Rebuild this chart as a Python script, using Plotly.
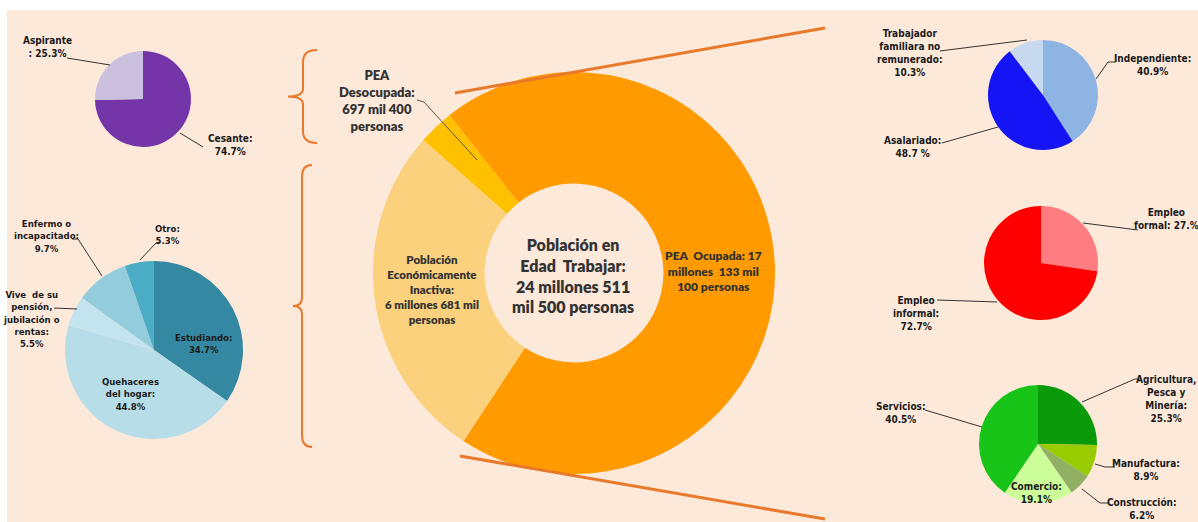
import plotly.graph_objects as go

W, H = 1198, 522

# ---- data -------------------------------------------------------------
# Población en edad de trabajar (personas)
pet_labels = ["PEA Ocupada", "Población Económicamente Inactiva", "PEA Desocupada"]
pet_values = [17133100, 6681000, 697400]
pet_colors = ["#FF9A00", "#FCD17D", "#FFC000"]

# PEA desocupada (%)
deso_labels = ["Cesante", "Aspirante"]
deso_values = [74.7, 25.3]
deso_colors = ["#7435A8", "#CBC0DE"]

# Población inactiva (%)
inac_labels = ["Estudiando", "Quehaceres del hogar", "Vive de su pensión, jubilación o rentas",
               "Enfermo o incapacitado", "Otro"]
inac_values = [34.7, 44.8, 5.5, 9.7, 5.3]
inac_colors = ["#3588A2", "#B7DEE8", "#C3E4EE", "#93CDDD", "#4BACC6"]

# PEA ocupada por categoría (%)
cat_labels = ["Independiente", "Asalariado", "Trabajador familiara no remunerado"]
cat_values = [40.9, 48.7, 10.3]
cat_colors = ["#8EB4E3", "#1414F5", "#C6D9F1"]

# Empleo formal / informal (%)
form_labels = ["Empleo formal", "Empleo informal"]
form_values = [27.3, 72.7]
form_colors = ["#FF7C80", "#FF0000"]

# PEA ocupada por sector (%)
sec_labels = ["Agricultura, Pesca y Minería", "Manufactura", "Construcción", "Comercio", "Servicios"]
sec_values = [25.3, 8.9, 6.2, 19.1, 40.5]
sec_colors = ["#0A9A0A", "#99CC00", "#92B063", "#CCFF99", "#18C418"]


# ---- helpers ----------------------------------------------------------
def fx(x):
    return x / W


def fy(y):
    return 1 - y / H


def domain(cx, cy, r):
    return dict(x=[fx(cx - r), fx(cx + r)], y=[fy(cy + r), fy(cy - r)])


def pie(labels, values, colors, cx, cy, r, hole=0, rotation=0):
    return go.Pie(labels=labels, values=values, sort=False, direction="clockwise",
                  rotation=rotation, hole=hole, textinfo="none", hoverinfo="label+percent",
                  marker=dict(colors=colors, line=dict(width=0)),
                  domain=domain(cx, cy, r), showlegend=False)


fig = go.Figure()
fig.add_trace(pie(pet_labels, pet_values, pet_colors, 574, 273, 201, hole=0.445, rotation=-38.3))
fig.add_trace(pie(deso_labels, deso_values, deso_colors, 143, 99, 48))
fig.add_trace(pie(inac_labels, inac_values, inac_colors, 154, 350, 89))
fig.add_trace(pie(cat_labels, cat_values, cat_colors, 1043, 95, 55))
fig.add_trace(pie(form_labels, form_values, form_colors, 1041, 263, 57))
fig.add_trace(pie(sec_labels, sec_values, sec_colors, 1038, 444, 59))

# ---- text -------------------------------------------------------------
NARROW = "Liberation Sans Narrow, Arial Narrow, DejaVu Sans Condensed, sans-serif"
CAL = "Lato, Carlito, Calibri, sans-serif"


def pct(v):
    return f"{v:.1f}%"


small_labels = [
    # (text, x, y, size)
    (f"Aspirante<br>: {pct(deso_values[1])}", 47, 47, 10),
    (f"Cesante:<br>{pct(deso_values[0])}", 230, 145, 10),
    (f"Enfermo o<br>incapacitado:<br>{pct(inac_values[3])}", 46, 236, 9.5),
    (f"Otro:<br>{pct(inac_values[4])}", 167, 234, 9.5),
    (f"Vive  de su<br>pensión,<br>jubilación o<br>rentas:<br>{pct(inac_values[2])}", 31, 319, 9.5),
    (f"Estudiando:<br>{pct(inac_values[0])}", 203, 343, 9.5),
    (f"Quehaceres<br>del hogar:<br>{pct(inac_values[1])}", 130, 394, 9.5),
    (f"Trabajador<br>familiara no<br>remunerado:<br>{pct(cat_values[2])}", 910, 53, 10),
    (f"Independiente:<br>{pct(cat_values[0])}", 1152, 65, 10),
    (f"Asalariado:<br>{cat_values[1]:.1f} %", 912, 147, 10),
    ("Empleo<br>formal: 27.%", 1166, 219, 10),
    (f"Empleo<br>informal:<br>{pct(form_values[1])}", 916, 313, 10),
    (f"Agricultura,<br>Pesca y<br>Minería:<br>{pct(sec_values[0])}", 1166, 399, 10),
    (f"Manufactura:<br>{pct(sec_values[1])}", 1146, 470, 10),
    (f"Construcción:<br>{pct(sec_values[2])}", 1142, 509, 10),
    (f"Comercio:<br>{pct(sec_values[3])}", 1036, 493, 10),
    (f"Servicios:<br>{pct(sec_values[4])}", 901, 413, 10),
]

annotations = []
for text, x, y, size in small_labels:
    annotations.append(dict(text=text, x=fx(x), y=fy(y), xref="paper", yref="paper",
                            xanchor="center", yanchor="middle", showarrow=False, align="center",
                            font=dict(family=NARROW, size=size, color="#1a1a1a", weight=700)))

big_labels = [
    ("Población en<br>Edad  Trabajar:<br>24 millones 511<br>mil 500 personas", 573, 275, 16),
    ("PEA  Ocupada: 17<br>millones  133 mil<br>100 personas", 713, 271, 12),
    ("Población<br>Económicamente<br>Inactiva:<br>6 millones 681 mil<br>personas", 432, 289, 11.5),
    ("PEA<br>Desocupada:<br>697 mil 400<br>personas", 377, 101, 13),
]
for text, x, y, size in big_labels:
    annotations.append(dict(text=text, x=fx(x), y=fy(y), xref="paper", yref="paper",
                            xanchor="center", yanchor="middle", showarrow=False, align="center",
                            font=dict(family=CAL, size=size, color="#333333", weight=800)))

# ---- shapes -----------------------------------------------------------
shapes = [dict(type="rect", xref="paper", yref="paper", x0=fx(7), x1=1, y0=0, y1=fy(10),
               fillcolor="#FDE9DA", line=dict(width=0), layer="below")]


def poly(points, color="#333333", width=1):
    d = "M " + " L ".join(f"{fx(x):.5f},{fy(y):.5f}" for x, y in points)
    return dict(type="path", path=d, xref="paper", yref="paper",
                line=dict(color=color, width=width))


leaders = [
    [(67, 58), (110, 65)],
    [(180, 133), (203, 147)],
    [(72, 239), (78, 239), (102, 276)],
    [(160, 242), (156, 243), (140, 260)],
    [(54, 308), (77, 309)],
    [(940, 51), (1027, 40)],
    [(1096, 79), (1108, 62), (1116, 62)],
    [(942, 143), (998, 127)],
    [(1083, 223), (1138, 230)],
    [(937, 300), (997, 302)],
    [(1082, 402), (1135, 379), (1141, 379)],
    [(1095, 464), (1105, 467), (1115, 467)],
    [(1082, 489), (1100, 503), (1108, 503)],
    [(925, 410), (982, 427)],
]
for pts in leaders:
    shapes.append(poly(pts))
shapes.append(poly([(417, 100), (424, 102), (477, 160)], color="#5a5a40", width=1))

# zoom lines from the donut towards the right-hand charts
ORANGE = "#E8792B"
shapes.append(poly([(455, 93), (825, 28)], color=ORANGE, width=3))
shapes.append(poly([(460, 456), (825, 519)], color=ORANGE, width=3))


def brace(x_line, x_tip, x_mid, y0, y1):
    ym = (y0 + y1) / 2
    pts = [
        ("M", (x_tip, y0)), ("Q", (x_line, y0), (x_line, y0 + 12)),
        ("L", (x_line, ym - 8)), ("Q", (x_line, ym), (x_mid, ym)),
        ("Q", (x_line, ym), (x_line, ym + 8)), ("L", (x_line, y1 - 12)),
        ("Q", (x_line, y1), (x_tip, y1)),
    ]
    parts = []
    for cmd, *ps in pts:
        parts.append(cmd + " " + " ".join(f"{fx(x):.5f},{fy(y):.5f}" for x, y in ps))
    return dict(type="path", path=" ".join(parts), xref="paper", yref="paper",
                line=dict(color=ORANGE, width=2))


shapes.append(brace(303, 317, 288, 50, 143))
shapes.append(brace(302, 312, 293, 165, 447))

fig.update_layout(
    width=W, height=H,
    margin=dict(l=0, r=0, t=0, b=0),
    paper_bgcolor="#FFFFFF",
    plot_bgcolor="rgba(0,0,0,0)",
    shapes=shapes,
    annotations=annotations,
    showlegend=False,
)

fig.write_html("out.html")
